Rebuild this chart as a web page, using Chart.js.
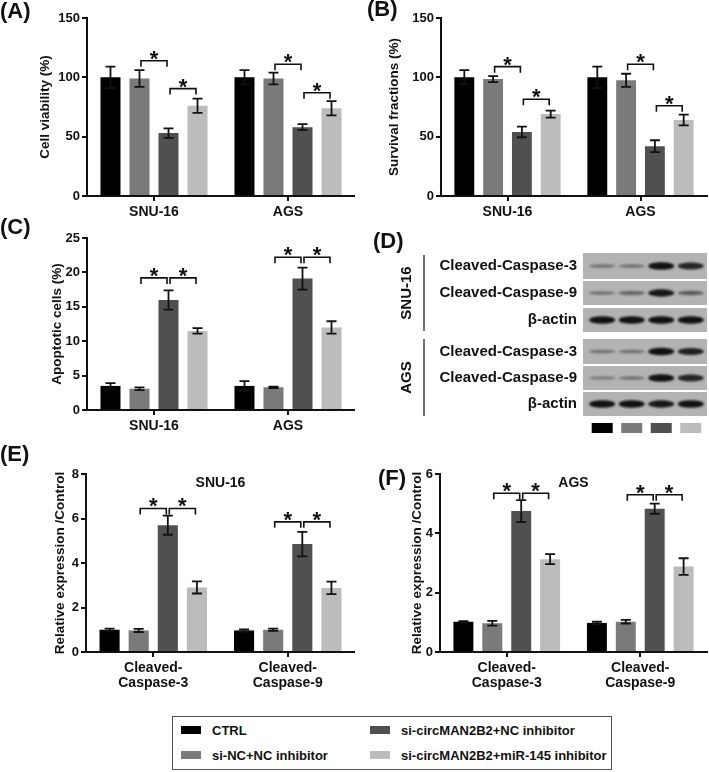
<!DOCTYPE html>
<html>
<head>
<meta charset="utf-8">
<script src="https://cdn.jsdelivr.net/npm/chart.js@4.4.0/dist/chart.umd.min.js"></script>
<style>
body { margin: 0; background: #fff; width: 709px; height: 772px; position: relative; overflow: hidden; font-family: 'Liberation Sans', Arial, sans-serif; }
canvas { position: absolute; }
#legend { position: absolute; left: 172px; top: 716px; width: 440px; height: 54px; border: 1.5px solid #555; box-sizing: border-box; }
.item { position: absolute; font-weight: bold; font-size: 13px; color: #111; line-height: 14px; white-space: nowrap; }
.sw { display: inline-block; width: 20px; height: 8px; margin-right: 11px; vertical-align: 1px; }
</style>
</head>
<body>
<canvas id="chartA" width="355" height="232" style="left:0;top:0"></canvas>
<canvas id="chartB" width="354" height="232" style="left:355px;top:0"></canvas>
<canvas id="chartC" width="355" height="220" style="left:0;top:216px"></canvas>
<canvas id="chartD" width="354" height="220" style="left:355px;top:216px"></canvas>
<canvas id="chartE" width="355" height="270" style="left:0;top:436px"></canvas>
<canvas id="chartF" width="354" height="270" style="left:355px;top:436px"></canvas>
<div id="legend"></div>

<script>
// groups (same order in every panel)
const groupNames = ['CTRL', 'si-NC+NC inhibitor', 'si-circMAN2B2+NC inhibitor', 'si-circMAN2B2+miR-145 inhibitor'];
const groupColors = ['#000000', '#7a7a7a', '#505050', '#bcbcbc'];
const cellLines = ['SNU-16', 'AGS'];
const caspaseLabels = [['Cleaved-', 'Caspase-3'], ['Cleaved-', 'Caspase-9']];

// (A) cell viability, one row per group: [SNU-16, AGS]
const viabilityMean = [[100, 100], [99, 99], [53, 58], [76, 74]];
const viabilityErr = [[9, 6], [7, 5], [4, 2.5], [6, 6]];
// (B) survival fractions
const survivalMean = [[100, 100], [98.5, 97.5], [54, 42], [69, 64]];
const survivalErr = [[6, 9], [2.5, 5.5], [4.5, 5], [3, 4.5]];
// (C) apoptotic cells
const apoptosisMean = [[3.5, 3.5], [3.1, 3.3], [16, 19.1], [11.5, 12]];
const apoptosisErr = [[0.4, 0.7], [0.2, 0.1], [1.4, 1.6], [0.4, 0.9]];
// (E) SNU-16 relative expression: [caspase-3, caspase-9]
const snuExprMean = [[1.0, 0.97], [0.97, 1.0], [5.7, 4.85], [2.9, 2.88]];
const snuExprErr = [[0.05, 0.05], [0.07, 0.05], [0.43, 0.55], [0.27, 0.28]];
// (F) AGS relative expression
const agsExprMean = [[1.02, 0.98], [0.97, 1.02], [4.75, 4.83], [3.13, 2.88]];
const agsExprErr = [[0.02, 0.04], [0.08, 0.06], [0.37, 0.17], [0.17, 0.28]];

// significance brackets: [category, fromGroup, toGroup, height]
const bracketsA = [[0, 1, 2, 114], [0, 2, 3, 90.5], [1, 1, 2, 111], [1, 2, 3, 87]];
const bracketsB = [[0, 1, 2, 109], [0, 2, 3, 81.5], [1, 1, 2, 111], [1, 2, 3, 76]];
const bracketsC = [[0, 1, 2, 19.2], [0, 2, 3, 19.2], [1, 1, 2, 22.2], [1, 2, 3, 22.2]];
const bracketsE = [[0, 1, 2, 6.45], [0, 2, 3, 6.45], [1, 1, 2, 5.85], [1, 2, 3, 5.85]];
const bracketsF = [[0, 1, 2, 5.35], [0, 2, 3, 5.35], [1, 1, 2, 5.3], [1, 2, 3, 5.3]];

// (D) western blot band strength per lane (0 = none, 1 = saturated)
const blotRows = ['Cleaved-Caspase-3', 'Cleaved-Caspase-9', 'β-actin'];
const blotSnu = [[0.25, 0.25, 0.95, 0.8], [0.25, 0.35, 0.9, 0.4], [0.95, 0.95, 0.95, 0.95]];
const blotAgs = [[0.25, 0.25, 0.95, 0.85], [0.2, 0.25, 0.95, 0.8], [0.95, 0.95, 0.9, 0.95]];

const FONT = "'Liberation Sans', Arial, sans-serif";
Chart.defaults.font.family = FONT;
Chart.defaults.color = '#111';

// error bars (mean +/- err)
const errorBarPlugin = {
    id: 'errorBars',
    afterDatasetsDraw(chart) {
        const ctx = chart.ctx;
        const y = chart.scales.y;
        ctx.save();
        ctx.strokeStyle = '#111';
        ctx.lineWidth = 1.8;
        chart.data.datasets.forEach((ds, i) => {
            chart.getDatasetMeta(i).data.forEach((bar, j) => {
                const top = y.getPixelForValue(ds.data[j] + ds.err[j]);
                const bot = y.getPixelForValue(ds.data[j] - ds.err[j]);
                ctx.beginPath();
                ctx.moveTo(bar.x, top); ctx.lineTo(bar.x, bot);
                ctx.moveTo(bar.x - 5, top); ctx.lineTo(bar.x + 5, top);
                ctx.moveTo(bar.x - 5, bot); ctx.lineTo(bar.x + 5, bot);
                ctx.stroke();
            });
        });
        ctx.restore();
    }
};

// brackets with asterisks
const bracketPlugin = {
    id: 'sigBrackets',
    afterDatasetsDraw(chart, args, opts) {
        const ctx = chart.ctx;
        ctx.save();
        ctx.strokeStyle = '#111';
        ctx.fillStyle = '#111';
        ctx.lineWidth = 1.6;
        ctx.font = 'bold 22px ' + FONT;
        ctx.textAlign = 'center';
        ctx.textBaseline = 'alphabetic';
        opts.items.forEach(([cat, a, b, val]) => {
            const x1 = chart.getDatasetMeta(a).data[cat].x + 1.5;
            const x2 = chart.getDatasetMeta(b).data[cat].x - 1.5;
            const yy = chart.scales.y.getPixelForValue(val);
            ctx.beginPath();
            ctx.moveTo(x1, yy + 6); ctx.lineTo(x1, yy); ctx.lineTo(x2, yy); ctx.lineTo(x2, yy + 6);
            ctx.stroke();
            ctx.fillText('*', (x1 + x2) / 2, yy + 5);
        });
        ctx.restore();
    }
};

// panel letter and inner title
const panelTextPlugin = {
    id: 'panelText',
    afterDraw(chart, args, opts) {
        const ctx = chart.ctx;
        ctx.save();
        ctx.fillStyle = '#111';
        ctx.textBaseline = 'middle';
        ctx.font = 'bold 22px ' + FONT;
        ctx.textAlign = 'left';
        ctx.fillText(opts.letter, opts.lx, opts.ly);
        if (opts.title) {
            const a = chart.chartArea;
            ctx.font = 'bold 14px ' + FONT;
            ctx.textAlign = 'center';
            ctx.fillText(opts.title, (a.left + a.right) / 2, a.top + 9);
        }
        ctx.restore();
    }
};

function makeBarChart(id, o) {
    return new Chart(document.getElementById(id), {
        type: 'bar',
        data: {
            labels: o.labels,
            datasets: groupNames.map((name, g) => ({
                label: name,
                data: o.mean[g],
                err: o.err[g],
                backgroundColor: groupColors[g],
                borderWidth: 0,
                categoryPercentage: 0.866,
                barPercentage: 0.69
            }))
        },
        options: {
            responsive: false,
            animation: false,
            layout: { padding: { left: o.padLeft, top: o.padTop, right: o.padRight, bottom: 0 } },
            plugins: {
                legend: { display: false },
                tooltip: { enabled: false },
                sigBrackets: { items: o.brackets },
                panelText: { letter: o.letter, lx: o.lx, ly: o.ly, title: o.title }
            },
            scales: {
                x: {
                    grid: { display: true, drawOnChartArea: false, offset: false, color: '#111', lineWidth: 2, tickLength: 5 },
                    border: { display: true, color: '#111', width: 2 },
                    ticks: { font: { size: 14, weight: 'bold', lineHeight: 1.1 }, padding: 3, maxRotation: 0, autoSkip: false },
                    afterFit: s => { s.height = o.xHeight; }
                },
                y: {
                    min: 0,
                    max: o.max,
                    ticks: { stepSize: o.step, font: { size: 13, weight: 'bold' }, padding: 2 },
                    grid: { display: true, drawOnChartArea: false, color: '#111', lineWidth: 2, tickLength: 5 },
                    border: { display: true, color: '#111', width: 2 },
                    title: { display: true, text: o.yTitle, font: { size: 13.5, weight: 'bold' }, padding: 0 },
                    afterFit: s => { s.width = o.yWidth; }
                }
            }
        },
        plugins: [errorBarPlugin, bracketPlugin, panelTextPlugin]
    });
}

makeBarChart('chartA', {
    labels: cellLines, mean: viabilityMean, err: viabilityErr, brackets: bracketsA,
    max: 150, step: 50, yTitle: 'Cell viability (%)',
    padLeft: 37, yWidth: 50, padTop: 18, padRight: 0, xHeight: 36,
    letter: '(A)', lx: 0, ly: 12
});
makeBarChart('chartB', {
    labels: cellLines, mean: survivalMean, err: survivalErr, brackets: bracketsB,
    max: 150, step: 50, yTitle: 'Survival fractions (%)',
    padLeft: 31, yWidth: 55, padTop: 18, padRight: 2, xHeight: 36,
    letter: '(B)', lx: 12, ly: 10
});
makeBarChart('chartC', {
    labels: cellLines, mean: apoptosisMean, err: apoptosisErr, brackets: bracketsC,
    max: 25, step: 5, yTitle: 'Apoptotic cells (%)',
    padLeft: 49, yWidth: 38, padTop: 22, padRight: 0, xHeight: 26,
    letter: '(C)', lx: 0, ly: 12
});
makeBarChart('chartE', {
    labels: caspaseLabels, mean: snuExprMean, err: snuExprErr, brackets: bracketsE,
    max: 8, step: 2, yTitle: 'Relative expression /Control',
    padLeft: 52, yWidth: 34, padTop: 38, padRight: 0, xHeight: 54,
    letter: '(E)', lx: 0, ly: 19, title: 'SNU-16'
});
makeBarChart('chartF', {
    labels: caspaseLabels, mean: agsExprMean, err: agsExprErr, brackets: bracketsF,
    max: 6, step: 2, yTitle: 'Relative expression /Control',
    padLeft: 54, yWidth: 31, padTop: 38, padRight: 2, xHeight: 54,
    letter: '(F)', lx: 23, ly: 43, title: 'AGS'
});

// (D) blot drawn on an axis-less chart; lanes placed with the x scale
const stripOffsets = [[0, 26], [28, 52], [55, 79], [86, 111], [113, 137], [139, 163]];
const blotPlugin = {
    id: 'blot',
    afterDraw(chart) {
        const ctx = chart.ctx;
        const a = chart.chartArea;
        const x = chart.scales.x;
        const rows = blotSnu.concat(blotAgs);
        const names = blotRows.concat(blotRows);
        ctx.save();
        ctx.fillStyle = '#111';
        ctx.textBaseline = 'middle';
        ctx.font = 'bold 22px ' + FONT;
        ctx.fillText('(D)', 18, 26);

        rows.forEach((lanes, r) => {
            const [t, b] = stripOffsets[r];
            const top = a.top + t, h = b - t, mid = top + h / 2;
            ctx.fillStyle = '#b3b3b3';
            ctx.fillRect(a.left, top, a.right - a.left, h);
            ctx.fillStyle = '#111';
            ctx.font = 'bold 15px ' + FONT;
            ctx.textAlign = 'right';
            ctx.fillText(names[r], a.left - 6, mid);
            lanes.forEach((v, i) => {
                const cx = x.getPixelForValue(i + 1);
                const bh = 2 + 6 * v;
                ctx.save();
                ctx.filter = 'blur(1.2px)';
                ctx.fillStyle = 'rgba(10,10,10,' + (0.2 + 0.8 * v) + ')';
                ctx.beginPath();
                ctx.ellipse(cx, mid, 13, bh / 2, 0, 0, Math.PI * 2);
                ctx.fill();
                ctx.restore();
            });
        });

        // group bars and rotated cell line names
        ctx.strokeStyle = '#444';
        ctx.lineWidth = 1.5;
        [[a.top + 2, a.top + 78, 'SNU-16'], [a.top + 86, a.top + 163, 'AGS']].forEach(([y1, y2, txt]) => {
            ctx.beginPath();
            ctx.moveTo(69, y1); ctx.lineTo(69, y2);
            ctx.stroke();
            ctx.save();
            ctx.translate(52, (y1 + y2) / 2);
            ctx.rotate(-Math.PI / 2);
            ctx.textAlign = 'center';
            ctx.font = 'bold 15px ' + FONT;
            ctx.fillText(txt, 0, 0);
            ctx.restore();
        });

        // colour key under the lanes
        groupColors.forEach((c, i) => {
            const cx = x.getPixelForValue(i + 1);
            ctx.fillStyle = c;
            ctx.fillRect(cx - 10.5, a.bottom + 7, 21, 10);
        });
        ctx.restore();
    }
};

new Chart(document.getElementById('chartD'), {
    type: 'scatter',
    data: { datasets: [{ data: [] }] },
    options: {
        responsive: false,
        animation: false,
        layout: { padding: { left: 228, right: 2, top: 37, bottom: 20 } },
        plugins: { legend: { display: false }, tooltip: { enabled: false } },
        scales: {
            x: { type: 'linear', min: 0.35, max: 4.55, display: false },
            y: { type: 'linear', min: 0, max: 1, display: false }
        }
    },
    plugins: [blotPlugin]
});

// legend (two columns)
const legend = document.getElementById('legend');
const legendPos = [[8, 7], [8, 32], [197, 7], [197, 32]];
groupNames.forEach((name, g) => {
    const div = document.createElement('div');
    div.className = 'item';
    div.style.left = legendPos[g][0] + 'px';
    div.style.top = legendPos[g][1] + 'px';
    div.innerHTML = '<span class="sw" style="background:' + groupColors[g] + '"></span>' + name;
    legend.appendChild(div);
});
</script>
</body>
</html>
